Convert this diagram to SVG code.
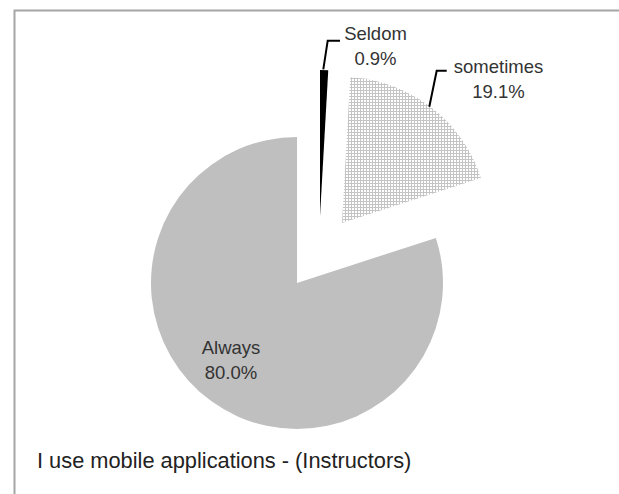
<svg xmlns="http://www.w3.org/2000/svg" width="619" height="494" viewBox="0 0 619 494">
<style>
  .lbl { font-family: "Liberation Sans", Arial, sans-serif; font-size: 18.5px; fill: #333333; text-anchor: middle; }
  .title { font-family: "Liberation Sans", Arial, sans-serif; font-size: 21.8px; fill: #222222; }
  .leader { fill: none; stroke: #000000; stroke-width: 2; }
</style>
<defs>
  <pattern id="grid" x="0" y="0" width="3" height="3" patternUnits="userSpaceOnUse">
    <rect width="3" height="3" fill="#ffffff"/>
    <rect x="0" y="0" width="3" height="1" fill="#c4c4c4"/>
    <rect x="0" y="0" width="1" height="3" fill="#c4c4c4"/>
  </pattern>
</defs>
<rect width="619" height="494" fill="#ffffff"/>
<rect x="14.5" y="10.5" width="640" height="520" fill="none" stroke="#a6a6a6" stroke-width="2"/>
<g id="always">
  <path d="M297,283 L435.85,237.88 A146,146 0 1,1 297,137 Z" fill="#bfbfbf"/>
  <text class="lbl" x="231" y="354">Always</text>
  <text class="lbl" x="231" y="379">80.0%</text>
</g>
<g id="seldom">
  <path d="M320,216 L320,70 A146,146 0 0,1 328.25,70.23 Z" fill="#000000"/>
  <text class="lbl" x="375.5" y="40">Seldom</text>
  <text class="lbl" x="375.5" y="65">0.9%</text>
</g>
<g id="sometimes">
  <path d="M342,223 L350.25,77.23 A146,146 0 0,1 480.85,177.88 Z" fill="url(#grid)"/>
  <text class="lbl" x="498.5" y="73">sometimes</text>
  <text class="lbl" x="498.5" y="98">19.1%</text>
</g>
<g id="connectors">
  <polyline class="leader" points="323.3,69.3 327.7,40.7 340,40.7"/>
  <polyline class="leader" points="429.3,106.7 436.7,70.7 446.7,70.7"/>
</g>
<text class="title" x="37" y="468">I use mobile applications - (Instructors)</text>
</svg>
